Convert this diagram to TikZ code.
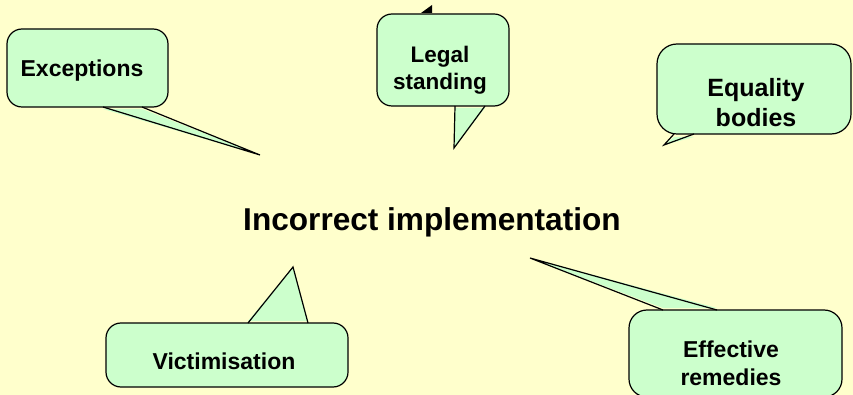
\documentclass[tikz,border=0pt]{standalone}
\usepackage{fontspec}
\setmainfont{Liberation Sans}
\definecolor{bg}{HTML}{FFFFCC}
\definecolor{bub}{HTML}{CCFFCC}
\tikzset{
  box/.style={draw=black,fill=bub,line width=1.2pt,rounded corners=15pt},
  tailfill/.style={fill=bub},
  tailline/.style={draw=black,line width=1.2pt,line join=miter},
  lbl/.style={font=\bfseries\fontsize{23}{28}\selectfont,align=center,anchor=base,inner sep=0pt},
  title/.style={font=\bfseries\fontsize{31.6}{36}\selectfont,anchor=base,inner sep=0pt}
}
\begin{document}
\begin{tikzpicture}[x=1pt,y=-1pt]
\fill[bg] (0,0) rectangle (853,395);
\useasboundingbox (0,0) rectangle (853,395);

% Exceptions
\draw[box] (7,29) rectangle (168,107);
\coordinate (exA) at (103,107); \coordinate (exB) at (142,107); \coordinate (exT) at (260,155);
\fill[tailfill] ([yshift=-2pt]exA) -- (exT) -- ([yshift=-2pt]exB) -- cycle;
\draw[tailline] (exA) -- (exT) -- (exB);
\node[lbl] (exc) at (82,77) {Exceptions};

% Legal standing
\draw[box] (377,14) rectangle (509,106);
\coordinate (lgA) at (455,106); \coordinate (lgB) at (485,106); \coordinate (lgT) at (454,148);
\fill[tailfill] ([yshift=-2pt]lgA) -- (lgT) -- ([yshift=-2pt]lgB) -- cycle;
\draw[tailline] (lgA) -- (lgT) -- (lgB);
\fill[black] (421,13) -- (432,5) -- (432,13) -- cycle;
\node[lbl,font=\bfseries\fontsize{22.5}{27}\selectfont] (leg) at (440,90) {Legal\\standing};

% Equality bodies
\draw[box,rounded corners=20pt] (657,44) rectangle (851,134);
\coordinate (eqA) at (674,134); \coordinate (eqB) at (694,134); \coordinate (eqT) at (664,145);
\fill[tailfill] ([yshift=-3pt]eqA) -- (eqT) -- ([yshift=-3pt]eqB) -- cycle;
\draw[tailline] (eqA) -- (eqT) -- (eqB);
\node[lbl,font=\bfseries\fontsize{25}{30}\selectfont] (eq) at (756,127) {Equality\\bodies};

% Victimisation
\draw[box] (106,323) rectangle (348,387);
\coordinate (viA) at (248,323); \coordinate (viB) at (308,323); \coordinate (viT) at (293,267);
\fill[tailfill] ([yshift=2pt]viA) -- (viT) -- ([yshift=2pt]viB) -- cycle;
\draw[tailline] (viA) -- (viT) -- (viB);
\node[lbl] (vic) at (224,369) {Victimisation};

% Effective remedies
\draw[box,rounded corners=18pt] (629,310) rectangle (842,397);
\coordinate (efA) at (663,310); \coordinate (efB) at (717,310); \coordinate (efT) at (530,258);
\fill[tailfill] ([yshift=2pt]efA) -- (efT) -- ([yshift=2pt]efB) -- cycle;
\draw[tailline] (efA) -- (efT) -- (efB);
\node[lbl,font=\bfseries\fontsize{23}{28}\selectfont] (eff) at (731,385) {Effective\\remedies};

% Title
\node[title] (main) at (432,230) {Incorrect implementation};
\end{tikzpicture}
\end{document}
